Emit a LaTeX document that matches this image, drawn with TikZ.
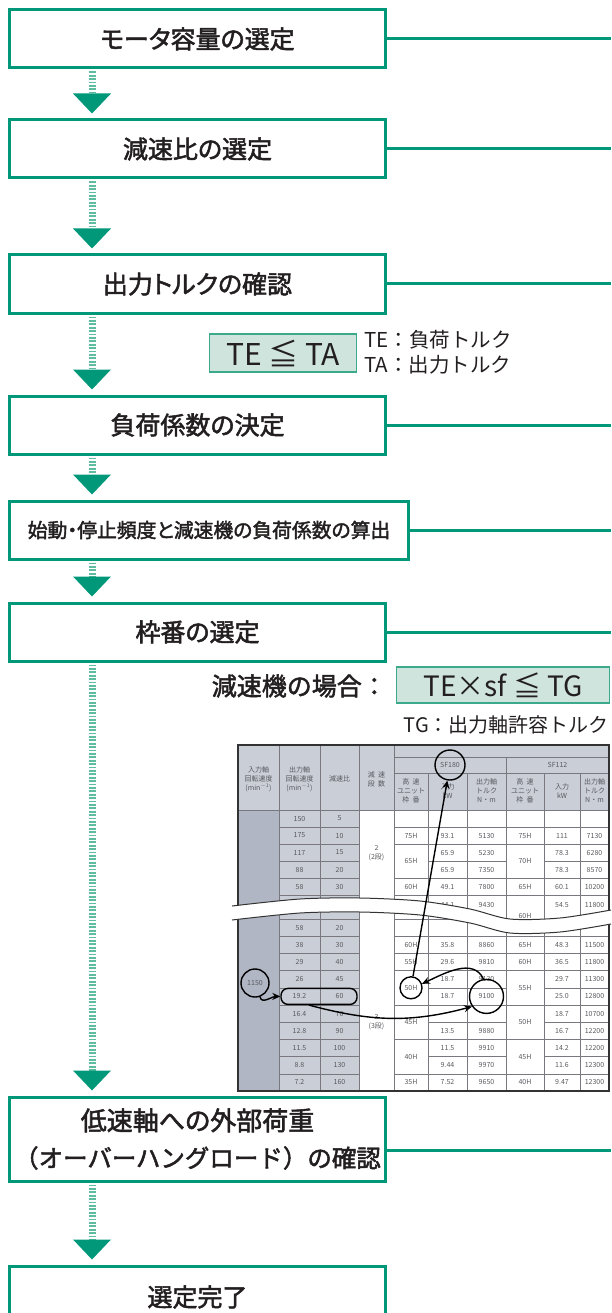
\documentclass[tikz,border=0pt]{standalone}
\usepackage{fontspec}
\newfontfamily\jp{Noto Sans CJK JP}
\newfontfamily\jpb{Noto Sans CJK JP}[FakeBold=2, RawFeature=+palt]
\newfontfamily\jpbf{Noto Sans CJK JP}[FakeBold=2]
\usetikzlibrary{arrows.meta,calc}
\definecolor{grn}{RGB}{0,152,121}
\definecolor{stemc}{RGB}{95,188,158}
\definecolor{fbox}{RGB}{207,228,220}
\definecolor{fboxd}{RGB}{60,170,138}
\definecolor{txt}{RGB}{35,31,32}
\definecolor{hdr}{RGB}{201,206,215}
\definecolor{colone}{RGB}{176,182,195}
\definecolor{tlc}{RGB}{120,120,126}
\definecolor{ttc}{RGB}{90,90,95}
\begin{document}
\begin{tikzpicture}[x=1pt,y=-1pt,
  stepbox/.style={draw=grn, line width=3pt, fill=white, text=txt, minimum width=376pt, minimum height=58pt, inner sep=0pt, font=\jpb\fontsize{25}{37}\selectfont, align=center},
  connline/.style={draw=grn, line width=3pt},
  stemline/.style={draw=stemc, line width=7pt, dash pattern=on 1.8pt off 1.6pt},
  trihead/.style={fill=grn},
  fbx/.style={draw=fboxd, line width=1.2pt, fill=fbox, text=txt, inner sep=0pt},
  tcell/.style={text=ttc, font=\jp\fontsize{7}{9}\selectfont, inner sep=0pt, align=center},
  tline/.style={draw=tlc, line width=0.6pt},
  tborder/.style={draw=black!80, line width=1.2pt},
  bandline/.style={draw=black!80, line width=1pt},
  circmark/.style={draw=black, line width=1.4pt, circle, inner sep=0pt},
  arrline/.style={draw=black, line width=1.4pt, -{Stealth[length=8pt,width=7pt]}},
]
\useasboundingbox (0,0) rectangle (611,1313);
\coordinate (R) at (611,0);
\coordinate (X) at (92,0);

% ---------------- flow boxes
\node[stepbox] (b1) at (197.5,39) {モータ容量の選定};
\node[stepbox] (b2) at (197.5,149) {減速比の選定};
\node[stepbox] (b3) at (197.5,284) {出力トルクの確認};
\node[stepbox] (b4) at (197.5,425) {負荷係数の決定};
\node[stepbox, minimum width=399pt, font=\jpb\fontsize{19.8}{24}\selectfont] (b5) at (209,530) {始動・停止頻度と減速機の負荷係数の算出};
\node[stepbox] (b6) at (197.5,632) {枠番の選定};
\node[stepbox, minimum height=84pt, font=\jpbf\fontsize{24.5}{37}\selectfont] (b7) at (197.5,1139) {{\jpb\fontsize{26}{37}\selectfont 低速軸への外部荷重}\\（オーバーハングロード）の確認};
\node[stepbox, minimum height=62pt] (b8) at (197.5,1297) {選定完了};

% connectors to the right edge
\foreach \b in {b1,b2,b3,b4,b5,b6}{
  \draw[connline] (\b.east) -- (\b.east -| R);
}
\draw[connline] ($(b7.east)+(0,11)$) -- ($(b7.east -| R)+(0,11)$);

% down arrows
\foreach \a/\b in {b1/b2,b2/b3,b3/b4,b4/b5,b5/b6,b6/b7,b7/b8}{
  \draw[stemline] ($(\a.south -| X)+(0,2)$) -- ($(\b.north -| X)+(0,-25)$);
  \fill[trihead] ($(\b.north -| X)+(0,-5)$) -- ++(-19,-20) -- ++(38,0) -- cycle;
}

% ---------------- formulas
\node[fbx, minimum width=147pt, minimum height=38pt, font=\jp\fontsize{30}{30}\selectfont] (f1) at (283,353) {TE ≦ TA};
\node[anchor=west, text=txt, font=\jp\fontsize{20.5}{25}\selectfont, align=left, inner sep=0pt] (f1n) at (364,352) {TE：負荷トルク\\TA：出力トルク};

\node[anchor=east, text=txt, font=\jpbf\fontsize{25}{25}\selectfont, inner sep=0pt] (cs) at (387,686) {減速機の場合：};
\node[fbx, anchor=west, minimum width=213pt, minimum height=36pt, font=\jp\fontsize{28}{28}\selectfont] (f2) at (396,685) {TE×sf ≦ TG};
\node[anchor=east, text=txt, font=\jp\fontsize{20}{20}\selectfont, inner sep=0pt] (tg) at (609,725) {TG：出力軸許容トルク};

% ---------------- table
\fill[hdr] (238,745) rectangle (609,810);
\fill[colone] (238,810) rectangle (279,1091);
\fill[hdr] (279,810) rectangle (359,1091);
\draw[tline] (238,810) -- (609,810);
\foreach \x in {279,320,359,394} \draw[tline] (\x,745) -- (\x,1091);
\draw[tline] (506,757) -- (506,1091);
\foreach \x in {428,467,544,580} \draw[tline] (\x,773) -- (\x,1091);
\draw[tline] (394,757) -- (609,757);
\draw[tline] (394,773) -- (609,773);
\foreach \y in {827,844,861,878,895,919,936.2,953.4,970.6,987.8,1005,1022.2,1039.4,1056.6,1073.8}{
  \draw[tline] (279,\y) -- (359,\y);
  \draw[tline] (428,\y) -- (506,\y);
  \draw[tline] (544,\y) -- (609,\y);
}
\foreach \y in {827,844,878,895,919,936.2,953.4,970.6,1005,1039.4,1073.8} \draw[tline] (394,\y) -- (428,\y);
\foreach \y in {827,844,878,895,936.2,953.4,970.6,1005,1039.4,1073.8} \draw[tline] (506,\y) -- (544,\y);
\draw[tborder] (238,745) rectangle (609,1091);

% header texts
\node[tcell] (h1) at (258.5,779) {入力軸\\回転速度\\(min\textsuperscript{$-$1})};
\node[tcell] (h2) at (299.5,779) {出力軸\\回転速度\\(min\textsuperscript{$-$1})};
\node[tcell] (h3) at (339.5,779) {減速比};
\node[tcell] (h4) at (376.5,779) {減\ \ 速\\段\ \ 数};
\node[tcell] (h5) at (411,791) {高\ \ 速\\ユニット\\枠\ \ 番};
\node[tcell] (h6) at (447.5,791) {入力\\kW};
\node[tcell] (h7) at (486.5,791) {出力軸\\トルク\\N・m};
\node[tcell] (h8) at (525,791) {高\ \ 速\\ユニット\\枠\ \ 番};
\node[tcell] (h9) at (562,791) {入力\\kW};
\node[tcell] (h10) at (594.5,791) {出力軸\\トルク\\N・m};
\node[tcell] (sfa) at (450,765) {SF180};
\node[tcell] (sfb) at (557.5,765) {SF112};

% left columns data
\foreach \r/\y/\a/\b in {0/818.5/150/5, 1/835.5/175/10, 2/852.5/117/15, 3/869.5/88/20, 4/886.5/58/30, 6/927.6/58/20, 7/944.8/38/30, 8/962/29/40, 9/979.2/26/45, 10/996.4/19.2/60, 11/1013.6/16.4/70, 12/1030.8/12.8/90, 13/1048/11.5/100, 14/1065.2/8.8/130, 15/1082.4/7.2/160}{
  \node[tcell] (r\r c2) at (299.5,\y) {\a};
  \node[tcell] (r\r c3) at (339.5,\y) {\b};
}
\node[tcell] (g2) at (376.5,853) {2\\(2段)};
\node[tcell] (g3) at (376.5,1022) {3\\(3段)};
\node[tcell] (n1150) at (255,983) {1150};

% right columns data
\foreach \r/\y/\a/\b/\c/\d/\e/\f in {1/835.5/75H/93.1/5130/75H/111/7130, 4/886.5/60H/49.1/7800/65H/60.1/10200, 7/944.8/60H/35.8/8860/65H/48.3/11500, 8/962/55H/29.6/9810/60H/36.5/11800, 15/1082.4/35H/7.52/9650/40H/9.47/12300}{
  \node[tcell] (r\r c5) at (411,\y) {\a};
  \node[tcell] (r\r c6) at (447.5,\y) {\b};
  \node[tcell] (r\r c7) at (486.5,\y) {\c};
  \node[tcell] (r\r c8) at (525,\y) {\d};
  \node[tcell] (r\r c9) at (562,\y) {\e};
  \node[tcell] (r\r c10) at (594.5,\y) {\f};
}
\foreach \r/\y/\b/\c/\e/\f in {2/852.5/65.9/5230/78.3/6280, 3/869.5/65.9/7350/78.3/8570, 5/905/44.1/9430/54.5/11800, 9/979.2/18.7/9130/29.7/11300, 10/996.4/18.7/9100/25.0/12800, 12/1030.8/13.5/9880/16.7/12200, 13/1048/11.5/9910/14.2/12200, 14/1065.2/9.44/9970/11.6/12300}{
  \node[tcell] (r\r c6) at (447.5,\y) {\b};
  \node[tcell] (r\r c7) at (486.5,\y) {\c};
  \node[tcell] (r\r c9) at (562,\y) {\e};
  \node[tcell] (r\r c10) at (594.5,\y) {\f};
}
\node[tcell] (r11c9) at (562,1013.6) {18.7};
\node[tcell] (r11c10) at (594.5,1013.6) {10700};
\foreach \n/\x/\y/\t in {m1/411/861/65H, m2/411/987.8/50H, m3/411/1022.2/45H, m4/411/1056.6/40H, m5/525/861/70H, m6/525/916/60H, m7/525/987.8/55H, m8/525/1022.2/50H, m9/525/1056.6/45H}{
  \node[tcell] (\n) at (\x,\y) {\t};
}

% break band
\fill[white] plot[smooth] coordinates {(232,906) (300,899) (360,898) (420,901) (470,909) (510,919) (560,918) (611,910)}
  -- plot[smooth] coordinates {(611,924) (560,932) (510,933) (470,923) (420,915) (360,912) (300,913) (232,920)} -- cycle;
\draw[bandline] plot[smooth] coordinates {(232,906) (300,899) (360,898) (420,901) (470,909) (510,919) (560,918) (611,910)};
\draw[bandline] plot[smooth] coordinates {(232,920) (300,913) (360,912) (420,915) (470,923) (510,933) (560,932) (611,924)};

% marks and arrows
\node[circmark, minimum size=30pt] (csf) at (450,765) {};
\node[circmark, minimum size=22pt] (c50) at (411,987.8) {};
\node[circmark, minimum size=28pt] (c1150) at (255,983) {};
\node[circmark, minimum size=34pt] (c9100) at (486.5,996.4) {};
\node[draw=black, line width=1.4pt, rounded corners=7pt, minimum width=76pt, minimum height=16pt, inner sep=0pt] (rr) at (319,996.4) {};

\draw[arrline] (c50) -- (csf);
\draw[arrline] (c1150.-70) to[out=-80,in=180] (rr.west);
\draw[arrline] ($(rr.south)+(-10,0)$) to[out=-15,in=195] (c9100.215);
\draw[arrline] (c9100.100) to[out=115,in=25] (c50.20);
\end{tikzpicture}
\end{document}
